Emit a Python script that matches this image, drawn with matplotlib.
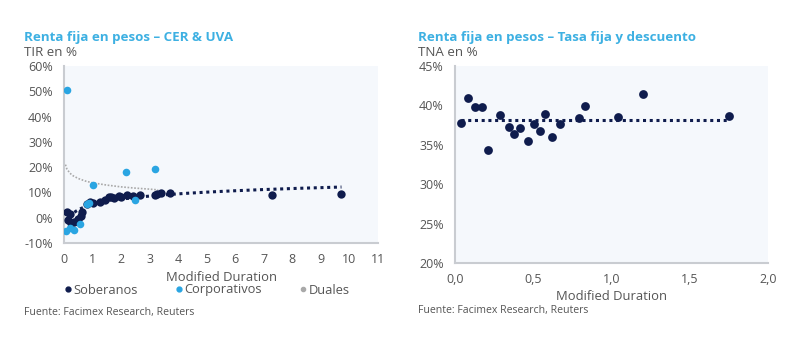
import numpy as np
import matplotlib
matplotlib.use("Agg")
import matplotlib.pyplot as plt
from matplotlib.lines import Line2D

plt.rcParams['font.family'] = ['Open Sans', 'DejaVu Sans']

# ---- Left chart data (CER & UVA) ----
sob_x = [0.09, 0.2, 0.15, 0.25, 0.35, 0.5, 0.6, 0.62, 0.8, 0.92, 1.0, 1.27, 1.45, 1.56, 1.65, 1.75,
         1.91, 2.0, 2.2, 2.4, 2.65, 3.2, 3.26, 3.4, 3.73, 7.28, 9.72]
sob_y = [2.1, 1.5, -1.0, -2.0, -1.5, -0.5, 0.5, 2.1, 5.5, 6.1, 5.8, 6.1, 7.0, 8.1, 8.3, 7.8,
         8.7, 8.3, 9.1, 8.6, 9.1, 9.0, 9.4, 9.6, 9.8, 9.1, 9.4]
corp_x = [0.12, 1.01, 2.16, 3.2, 2.5, 0.89, 0.8, 0.07, 0.35, 0.56, 0.2]
corp_y = [50.7, 13.0, 18.0, 19.3, 7.1, 5.8, 5.5, -5.2, -4.9, -2.5, -4.0]
# Duales trend line
dual_x = [0.05, 0.1, 0.2, 0.3, 0.5, 0.75, 1.0, 1.5, 2.0, 2.5, 3.0, 3.3]
dual_y = [21.0, 19.3, 17.7, 16.7, 15.5, 14.5, 13.8, 12.9, 12.2, 11.7, 11.3, 11.0]

left_xticks = list(range(0, 12))
left_yticks = [-10, 0, 10, 20, 30, 40, 50, 60]

# ---- Right chart data (Tasa fija y descuento) ----
tf_x = [0.037, 0.085, 0.126, 0.175, 0.21, 0.29, 0.346, 0.374, 0.417, 0.464, 0.506, 0.545,
        0.575, 0.622, 0.669, 0.795, 0.833, 1.04, 1.203, 1.748]
tf_y = [37.8, 41.0, 39.8, 39.8, 34.4, 38.8, 37.3, 36.4, 37.1, 35.5, 37.6, 36.75,
        38.9, 36.0, 37.7, 38.4, 39.9, 38.5, 41.5, 38.7]
right_xticks = [0.0, 0.5, 1.0, 1.5, 2.0]
right_yticks = [20, 25, 30, 35, 40, 45]

NAVY = '#0f1c4d'
LBLUE = '#2aa5e2'
TITLE = '#3db0e2'
GRAY = '#a9a9a9'
TXT = '#555555'
BG = '#f5f8fc'
SPINE = '#c9ccd1'

fig = plt.figure(figsize=(8, 3.39), dpi=100)
fig.patch.set_facecolor('white')

def style(ax):
    ax.set_facecolor(BG)
    for s in ['top', 'right']:
        ax.spines[s].set_visible(False)
    for s in ['left', 'bottom']:
        ax.spines[s].set_color(SPINE)
        ax.spines[s].set_linewidth(1.5)
    ax.tick_params(axis='y', length=0, colors=TXT, labelsize=9, pad=8)
    ax.tick_params(axis='x', length=0, colors=TXT, labelsize=9, pad=7)

# Left axes
ax1 = fig.add_axes([64/800, 1-243/339, (378-64)/800, (243-66)/339])
style(ax1)
ax1.set_xlim(0, 11)
ax1.set_ylim(-10, 60)
ax1.set_xticks(left_xticks)
ax1.set_xticklabels([str(t) for t in left_xticks])
ax1.set_yticks(left_yticks)
ax1.set_yticklabels([f'{t}%' for t in left_yticks])

ax1.plot(dual_x, dual_y, color=GRAY, lw=1.2, ls=(0, (1, 1)), zorder=2)
# log trend for soberanos
sx = np.array(sob_x); sy = np.array(sob_y)
b, a = np.polyfit(np.log(sx), sy, 1)
tx = np.linspace(sx.min(), sx.max(), 200)
ax1.plot(tx, a + b*np.log(tx), color=NAVY, lw=2.2, ls=(0, (1, 1.2)), zorder=3)
ax1.scatter(sob_x, sob_y, s=36, color=NAVY, zorder=4, linewidths=0)
ax1.scatter(corp_x, corp_y, s=30, color=LBLUE, zorder=5, linewidths=0)
ax1.set_xlabel('Modified Duration', color=TXT, fontsize=9.4, labelpad=4)

# Right axes
ax2 = fig.add_axes([455/800, 1-263/339, (768-455)/800, (263-66)/339])
style(ax2)
ax2.set_xlim(0, 2)
ax2.set_ylim(20, 45)
ax2.set_xticks(right_xticks)
ax2.set_xticklabels([f'{t:.1f}'.replace('.', ',') for t in right_xticks])
ax2.set_yticks(right_yticks)
ax2.set_yticklabels([f'{t}%' for t in right_yticks])
rx = np.array(tf_x); ry = np.array(tf_y)
lvl = ry.mean()
ax2.plot([rx.min(), rx.max()], [lvl, lvl], color=NAVY, lw=2.2, ls=(0, (1, 1.2)), zorder=3)
ax2.scatter(tf_x, tf_y, s=40, color=NAVY, zorder=4, linewidths=0)
ax2.set_xlabel('Modified Duration', color=TXT, fontsize=9.4, labelpad=3)

# Titles
fig.text(24/800, 1-37/339, 'Renta fija en pesos – CER & UVA', color=TITLE, fontsize=9.6,
         fontweight='bold', va='center', ha='left')
fig.text(24/800, 1-52/339, 'TIR en %', color=TXT, fontsize=9.6, va='center', ha='left')
fig.text(418/800, 1-37/339, 'Renta fija en pesos – Tasa fija y descuento', color=TITLE, fontsize=9.6,
         fontweight='bold', va='center', ha='left')
fig.text(418/800, 1-52/339, 'TNA en %', color=TXT, fontsize=9.6, va='center', ha='left')
fig.text(24/800, 1-312/339, 'Fuente: Facimex Research, Reuters', color=TXT, fontsize=7.6,
         va='center', ha='left')
fig.text(418/800, 1-311/339, 'Fuente: Facimex Research, Reuters', color=TXT, fontsize=7.6,
         va='center', ha='left')

handles = [Line2D([], [], ls='none', marker='o', color=NAVY, markersize=3.5),
           Line2D([], [], ls='none', marker='o', color=LBLUE, markersize=3.5),
           Line2D([], [], ls='none', marker='o', color=GRAY, markersize=3)]
fig.legend(handles, ['Soberanos', 'Corporativos', 'Duales'], loc='center',
           bbox_to_anchor=(206/800, 1-290/339), ncol=3, frameon=False, fontsize=9.3,
           handletextpad=0.05, columnspacing=2.75, labelcolor=TXT, handlelength=0.8)

fig.savefig('out.png', dpi=100)
